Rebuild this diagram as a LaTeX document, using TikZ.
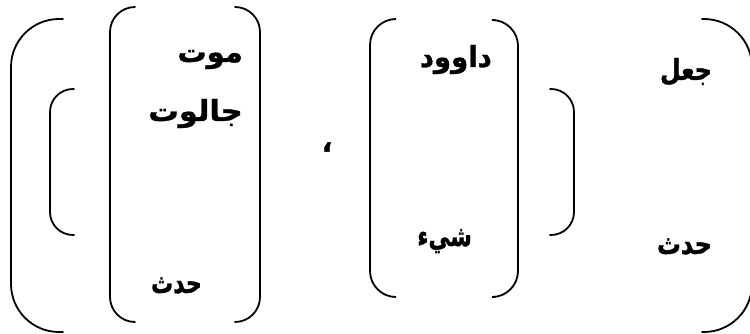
\documentclass[tikz,border=0pt]{standalone}
\usepackage{fontspec}
\TeXXeTstate=1
\newfontfamily\arabicfont[Script=Arabic, BoldFeatures={FakeBold=1.2}]{DejaVu Sans}
% horizontally squeezed right-to-left word
\newcommand{\arword}[2]{\scalebox{#1}[1]{\beginR #2\endR}}
\begin{document}
\begin{tikzpicture}[x=1pt,y=-1pt,
  brk/.style={line width=1.8pt, line cap=round, rounded corners=#1},
  word/.style={font=\arabicfont\bfseries\fontsize{29}{34}\selectfont,
               anchor=base east, inner sep=0pt}]
\useasboundingbox (0,0) rectangle (750,334);

% outermost pair
\draw[brk=48pt] (63,19) -| (11,332) -- (63,332);
\draw[brk=48pt] (702,19) -| (752,332) -- (702,332);

% inner square-ish pair
\draw[brk=23pt] (74,89) -| (50,235) -- (74,235);
\draw[brk=23pt] (550,89) -| (574,235) -- (550,235);

% first group
\draw[brk=25pt] (135,7) -| (110,322) -- (135,322);
\draw[brk=25pt] (235,7) -| (260,322) -- (235,322);

% second group
\draw[brk=26pt] (395,19) -| (370,297) -- (395,297);
\draw[brk=26pt] (495,20) -| (518,297) -- (495,297);

% words
\node[word] (mawt)    at (243,62)  {\arword{1}{موت}};
\node[word] (jalut)   at (243,121) {\arword{1.05}{جالوت}};
\node[word] (hadath1) at (202,293) {\arword{0.76}{حدث}};
\node[word] (dawud)   at (492,67)  {\arword{0.95}{داوود}};
\node[word] (shay)    at (472,246) {\arword{0.75}{شيء}};
\node[word] (jaal)    at (712,80)  {\arword{0.82}{جعل}};
\node[word] (hadath2) at (712,254) {\arword{0.82}{حدث}};

% separator
\node[font=\arabicfont\bfseries\fontsize{28}{30}\selectfont, inner sep=0pt] (sep) at (327,147) {\beginR ،\endR};
\end{tikzpicture}
\end{document}
